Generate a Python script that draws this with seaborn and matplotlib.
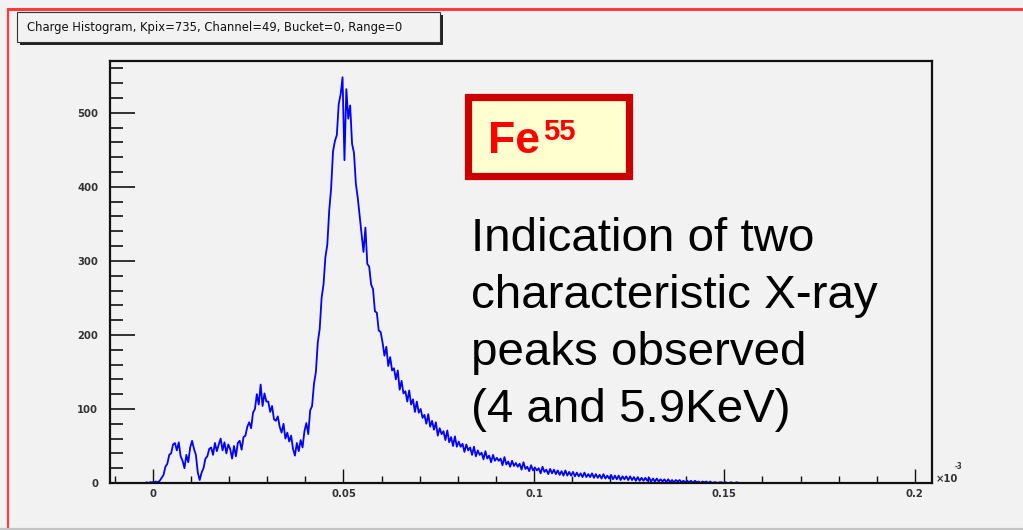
import numpy as np
import pandas as pd
import matplotlib
matplotlib.use("Agg")
import matplotlib.pyplot as plt
import seaborn as sns
from matplotlib.patches import Rectangle
from matplotlib.lines import Line2D
from matplotlib.ticker import MultipleLocator
from matplotlib import font_manager

# ---------------- data ----------------
bin_start = -0.002
bin_width = 0.0005
counts = [
    1, 0, 1, 1,
    1, 2, 1, 3, 7, 11, 22, 26, 38, 40,
    52, 54, 44, 55, 36, 30, 20, 38, 28, 48,
    57, 46, 38, 14, 4, 14, 20, 33, 36, 46,
    48, 38, 54, 43, 52, 60, 44, 55, 40, 52,
    46, 33, 50, 36, 54, 57, 45, 62, 64, 76,
    82, 74, 95, 100, 120, 106, 133, 104, 121, 110,
    110, 96, 104, 86, 84, 90, 76, 68, 80, 60,
    68, 56, 64, 46, 37, 54, 43, 58, 48, 70,
    81, 66, 98, 104, 134, 150, 190, 208, 250, 268,
    305, 322, 368, 398, 448, 462, 470, 512, 525, 548,
    436, 532, 492, 510, 458, 446, 404, 385, 360, 336,
    312, 345, 296, 292, 268, 262, 232, 230, 206, 204,
    190, 172, 184, 158, 170, 152, 155, 140, 152, 126,
    138, 121, 124, 110, 125, 106, 113, 96, 110, 95,
    100, 88, 92, 80, 93, 76, 84, 72, 82, 64,
    74, 66, 70, 58, 71, 55, 62, 50, 63, 49,
    56, 49, 53, 42, 52, 44, 48, 38, 49, 36,
    44, 38, 41, 32, 43, 33, 37, 28, 38, 30,
    34, 30, 33, 24, 35, 25, 29, 22, 30, 23,
    27, 22, 26, 18, 28, 19, 22, 16, 24, 17,
    21, 17, 20, 13, 22, 15, 18, 12, 19, 13,
    18, 12, 17, 11, 16, 10, 17, 10, 15, 10,
    15, 9, 14, 9, 13, 8, 14, 8, 12, 8,
    13, 7, 12, 7, 11, 6, 12, 6, 10, 6,
    11, 5, 10, 5, 10, 4, 9, 5, 9, 4,
    9, 4, 8, 3, 8, 3, 7, 3, 7, 3,
    7, 2, 6, 2, 6, 2, 5, 2, 5, 1,
    5, 1, 4, 1, 4, 2, 4, 1, 3, 1,
    3, 1, 3, 0, 3, 1, 2, 0, 2, 1,
    2, 0, 2, 0, 1, 1, 0, 1, 1, 0,
    1, 0, 0, 1, 0, 0, 1, 0, 0, 0,
]
x_ticks = [0, 0.05, 0.1, 0.15, 0.2]
x_tick_labels = ["0", "0.05", "0.1", "0.15", "0.2"]
y_ticks = [0, 100, 200, 300, 400, 500]
y_tick_labels = ["0", "100", "200", "300", "400", "500"]
title_text = "Charge Histogram, Kpix=735, Channel=49, Bucket=0, Range=0"
note_lines = ["Indication of two", "characteristic X-ray", "peaks observed", "(4 and 5.9KeV)"]

# ---------------- style ----------------
sns.set_style("ticks")
plt.rcParams["font.family"] = ["Liberation Sans", "DejaVu Sans"]

fonts = font_manager.fontManager.ttflist
has_cond = any(f.name == "DejaVu Sans" and f.stretch in ("condensed", "semi-condensed", 600, 700)
               for f in fonts)
if has_cond:
    small_font = dict(family=["DejaVu Sans"], stretch="condensed")
    title_size = 9.3
else:
    small_font = dict(family=["Liberation Sans", "DejaVu Sans"])
    title_size = 9.6

BG = "#f2f2f2"
W, H = 1023, 530
fig = plt.figure(figsize=(W / 100, H / 100), dpi=100, facecolor=BG)

def fx(px):
    return px / W

def fy(py):
    return 1 - py / H

ax = fig.add_axes([fx(110), fy(483), fx(932) - fx(110), fy(61) - fy(483)])
ax.set_facecolor(BG)

n = len(counts)
edges = [float(bin_start + bin_width * i) for i in range(n + 1)]
centers = [(edges[i] + edges[i + 1]) / 2 for i in range(n)]
df = pd.DataFrame({"charge": centers, "count": counts})
sns.histplot(data=df, x="charge", weights="count", bins=edges, element="poly",
             fill=False, color="#0000ff", linewidth=1.3, ax=ax)

ax.set_xlim(-0.0113, 0.2045)
ax.set_ylim(0, 570)
ax.set_xlabel("")
ax.set_ylabel("")

for s in ax.spines.values():
    s.set_color("#111111")
    s.set_linewidth(1.6)
    s.set_visible(True)

ax.set_xticks(x_ticks)
ax.set_xticklabels(x_tick_labels)
ax.set_yticks(y_ticks)
ax.set_yticklabels(y_tick_labels)
ax.xaxis.set_minor_locator(MultipleLocator(0.01))
ax.yaxis.set_minor_locator(MultipleLocator(20))
ax.tick_params(axis="x", which="major", direction="in", length=10, width=1.0,
               pad=4.5, colors="#111111", labelcolor="#333333", labelsize=8)
ax.tick_params(axis="x", which="minor", direction="in", length=5, width=1.0, colors="#111111")
ax.tick_params(axis="y", which="major", direction="in", length=18, width=1.2,
               pad=8.5, colors="#111111", labelcolor="#333333", labelsize=8)
ax.tick_params(axis="y", which="minor", direction="in", length=9.5, width=1.2, colors="#111111")
for lab in ax.get_xticklabels() + ax.get_yticklabels():
    lab.set_fontproperties(font_manager.FontProperties(size=8, weight="bold", **small_font))

# exponent label of x axis
fig.text(fx(936), fy(482), "×10", fontsize=8, color="#333333", weight="bold",
         va="baseline", ha="left", **small_font)
fig.text(fx(955), fy(469), "-3", fontsize=5.5, color="#333333", weight="bold",
         va="baseline", ha="left", **small_font)

# canvas frame lines
fig.add_artist(Line2D([fx(8), 1], [fy(9), fy(9)], color="#ff3b3b", linewidth=2.2))
fig.add_artist(Line2D([fx(8), fx(8)], [fy(9), fy(528)], color="#ff3b3b", linewidth=1.6))
fig.add_artist(Line2D([0, 1], [fy(528.5), fy(528.5)], color="#c4c4c4", linewidth=1.6))

# title box with shadow
fig.add_artist(Rectangle((fx(20), fy(45)), fx(443) - fx(20), fy(15) - fy(45),
                         transform=fig.transFigure, facecolor="#222222", edgecolor="none"))
fig.add_artist(Rectangle((fx(17), fy(42)), fx(440) - fx(17), fy(12) - fy(42),
                         transform=fig.transFigure, facecolor=BG, edgecolor="#333333", linewidth=0.8))
fig.text(fx(27), fy(27), title_text, fontsize=title_size, color="#111111",
         va="center", ha="left", **small_font)

# Fe55 box
fig.add_artist(Rectangle((fx(467.5), fy(175.5)), fx(628.5) - fx(467.5), fy(97) - fy(175.5),
                         transform=fig.transFigure, facecolor="#ffffd0", edgecolor="#cc0000",
                         linewidth=5.2))
fig.text(fx(488), fy(153), "Fe", fontsize=32, weight="bold", color="#ff0000",
         va="baseline", ha="left")
fig.text(fx(543), fy(140), "55", fontsize=21, weight="bold", color="#ff0000",
         va="baseline", ha="left")

# annotation text
for i, line in enumerate(note_lines):
    fig.text(fx(471), fy(251 + 57 * i), line, fontsize=34.2, color="#000000",
             va="baseline", ha="left")

fig.savefig("out.png", dpi=100, facecolor=BG)
